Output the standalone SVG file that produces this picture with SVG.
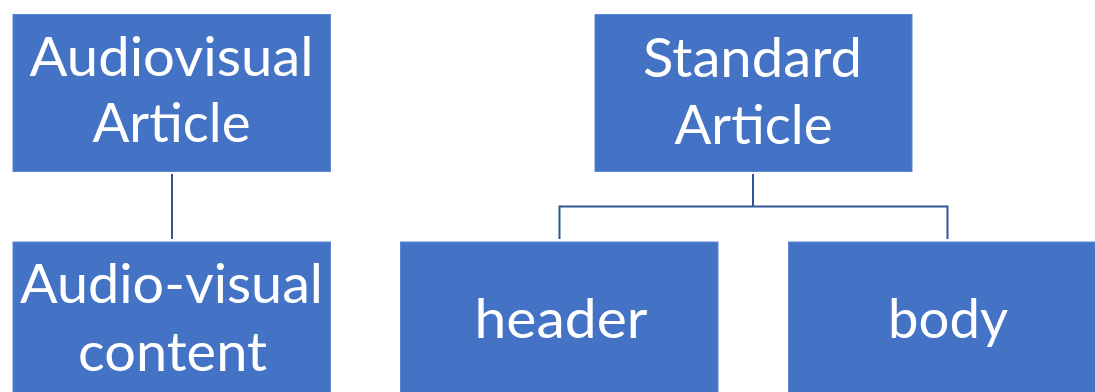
<svg xmlns="http://www.w3.org/2000/svg" width="1095" height="392" viewBox="0 0 1095 392">
<style>
.box{fill:#4472C4;stroke:#5B86D0;stroke-width:1}
.t{font-family:Lato,"Open Sans","Liberation Sans",sans-serif;font-size:55px;fill:#FFFFFF;text-anchor:middle}
.c{fill:none;stroke:#2F5597;stroke-width:2}
</style>
<rect width="1095" height="392" fill="#FFFFFF"/>
<g id="connectors">
<path class="c" d="M172 174V239"/>
<path class="c" d="M753 174V206.5M559.5 239V206.5H947.5V239"/>
</g>
<g id="audiovisual-article">
<rect class="box" x="13" y="14.5" width="317.5" height="157"/>
<text class="t" x="171.5" y="76" textLength="284" lengthAdjust="spacingAndGlyphs">Audiovisual</text>
<text class="t" x="171.5" y="142" textLength="158" lengthAdjust="spacingAndGlyphs">Article</text>
</g>
<g id="audiovisual-content">
<rect class="box" x="13" y="242" width="317.5" height="160"/>
<text class="t" x="171.5" y="303" textLength="303" lengthAdjust="spacingAndGlyphs">Audio-visual</text>
<text class="t" x="172.5" y="371" textLength="189" lengthAdjust="spacingAndGlyphs">content</text>
</g>
<g id="standard-article">
<rect class="box" x="595" y="14.5" width="317" height="157"/>
<text class="t" x="752.5" y="76.5" textLength="219" lengthAdjust="spacingAndGlyphs">Standard</text>
<text class="t" x="753.5" y="143.5" textLength="158" lengthAdjust="spacingAndGlyphs">Article</text>
</g>
<g id="header">
<rect class="box" x="400.5" y="242" width="317.5" height="160"/>
<text class="t" x="561" y="338" textLength="173" lengthAdjust="spacingAndGlyphs">header</text>
</g>
<g id="body">
<rect class="box" x="788.5" y="242" width="317.5" height="160"/>
<text class="t" x="948" y="338" textLength="120" lengthAdjust="spacingAndGlyphs">body</text>
</g>
</svg>
